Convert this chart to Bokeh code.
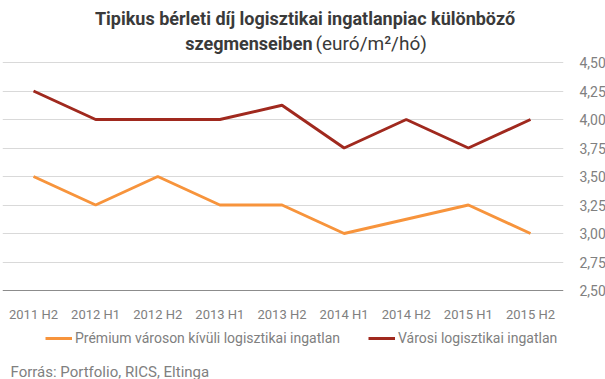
from bokeh.plotting import figure
from bokeh.models import (Range1d, LinearAxis, FixedTicker, Legend, LegendItem,
                          Label, CustomJSTickFormatter, Grid)
from bokeh.embed import file_html
from bokeh.resources import INLINE

categories = ["2011 H2", "2012 H1", "2012 H2", "2013 H1", "2013 H2",
              "2014 H1", "2014 H2", "2015 H1", "2015 H2"]
premium = [3.50, 3.25, 3.50, 3.25, 3.25, 3.00, 3.125, 3.25, 3.00]
varosi = [4.25, 4.00, 4.00, 4.00, 4.125, 3.75, 4.00, 3.75, 4.00]
y_ticks = [2.50, 2.75, 3.00, 3.25, 3.50, 3.75, 4.00, 4.25, 4.50]
series_names = ["Prémium városon kívüli logisztikai ingatlan",
                "Városi logisztikai ingatlan"]

FONT = "Roboto"
GRAY = "#808080"
TITLE_COLOR = "#3a3a3a"

xs = list(range(len(categories)))

# The frame spans the whole height: 62 px above 4.50 hold the title,
# 89 px below 2.50 hold the tick labels, legend and source line.
PX_PER_UNIT = 114.0
p = figure(frame_width=561, frame_height=379, output_backend="svg",
           toolbar_location=None,
           x_range=Range1d(-0.499, 8.531),
           y_range=Range1d(2.5 - 89 / PX_PER_UNIT, 4.5 + 62 / PX_PER_UNIT),
           min_border_left=2, min_border_top=0, min_border_right=0,
           min_border_bottom=0, x_axis_location=None, y_axis_location=None)
p.outline_line_color = None
p.background_fill_color = "white"
p.border_fill_color = "white"

# x axis, fixed at the 2.50 level
xaxis = LinearAxis(ticker=FixedTicker(ticks=xs), fixed_location=2.5,
                   major_label_overrides={i: c for i, c in enumerate(categories)})
xaxis.major_tick_line_color = None
xaxis.minor_tick_line_color = None
xaxis.axis_line_color = "#8c8c8c"
xaxis.axis_line_width = 1
xaxis.major_label_text_font = FONT
xaxis.major_label_text_font_size = "13px"
xaxis.major_label_text_color = GRAY
xaxis.major_label_standoff = 10
p.add_layout(xaxis, "below")

# y axis on right
yaxis = LinearAxis(ticker=FixedTicker(ticks=y_ticks),
                   formatter=CustomJSTickFormatter(code="return tick.toFixed(2).replace('.', ',');"))
yaxis.major_tick_line_color = None
yaxis.minor_tick_line_color = None
yaxis.axis_line_color = None
yaxis.major_label_text_font = FONT
yaxis.major_label_text_font_size = "14px"
yaxis.major_label_text_color = GRAY
yaxis.major_label_standoff = 10
p.add_layout(yaxis, "right")

p.xgrid.visible = False
p.ygrid.visible = False
p.add_layout(Grid(dimension=1, ticker=FixedTicker(ticks=y_ticks[1:]),
                  grid_line_color="#d9d9d9", grid_line_width=1))

r1 = p.line(xs, premium, line_color="#F7943C", line_width=3)
r2 = p.line(xs, varosi, line_color="#A0291E", line_width=3)

legend = Legend(items=[LegendItem(label=series_names[0], renderers=[r1]),
                       LegendItem(label=series_names[1], renderers=[r2])],
                orientation="horizontal", location=(43, 31),
                glyph_width=27, glyph_height=20, label_height=20,
                label_standoff=3, spacing=28,
                label_text_font=FONT, label_text_font_size="14px",
                label_text_color=GRAY, border_line_color=None,
                padding=0, margin=0, background_fill_alpha=0)
p.add_layout(legend, "center")

p.add_layout(Label(x=8, y=8, x_units="screen", y_units="screen",
                   text="Forrás: Portfolio, RICS, Eltinga",
                   text_font=FONT, text_font_size="15px",
                   text_color=GRAY, text_align="left", text_baseline="alphabetic"))

# titles
p.add_layout(Label(x=302.5, y=361, x_units="screen", y_units="screen",
                   text="Tipikus bérleti díj logisztikai ingatlanpiac különböző",
                   text_font=FONT, text_font_style="bold", text_font_size="18px",
                   text_color=TITLE_COLOR, text_align="center", text_baseline="middle"))
p.add_layout(Label(x=310, y=336, x_units="screen", y_units="screen",
                   text="szegmenseiben",
                   text_font=FONT, text_font_style="bold", text_font_size="18px",
                   text_color=TITLE_COLOR, text_align="right", text_baseline="middle"))
p.add_layout(Label(x=313, y=336, x_units="screen", y_units="screen",
                   text="(euró/m²/hó)",
                   text_font=FONT, text_font_size="19px",
                   text_color=TITLE_COLOR, text_align="left", text_baseline="middle"))

open("out.html", "w").write(file_html(p, INLINE))
